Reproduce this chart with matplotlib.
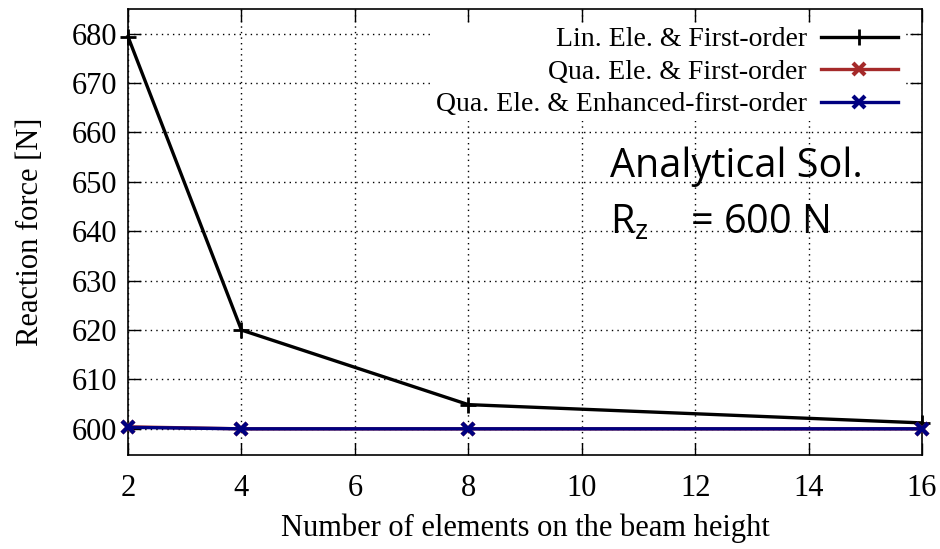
import matplotlib
matplotlib.use('Agg')
import matplotlib.pyplot as plt

plt.rcParams['font.family'] = ['Liberation Serif', 'DejaVu Serif']
plt.rcParams['mathtext.fontset'] = 'custom'
plt.rcParams['mathtext.rm'] = 'Open Sans'
plt.rcParams['mathtext.it'] = 'Open Sans'

elements = [2, 4, 8, 16]
lin_first = [679.4, 620.0, 604.9, 601.2]
qua_first = [600.4, 600.0, 600.0, 600.0]
qua_enhanced = [600.3, 600.0, 600.0, 600.0]

x_ticks = [2, 4, 6, 8, 10, 12, 14, 16]
y_ticks = [600, 610, 620, 630, 640, 650, 660, 670, 680]

fig = plt.figure(figsize=(9.4, 5.49), dpi=100)
ax = fig.add_axes([128/940, 1 - 455/549, (922-128)/940, (455-9)/549])

ax.plot(elements, lin_first, color='black', lw=2.4, marker='+', ms=11, mew=2,
        label='Lin. Ele. & First-order', clip_on=False, zorder=3)
ax.plot(elements, qua_first, color='#a52a2a', lw=2.4, marker='x', ms=8, mew=3,
        label='Qua. Ele. & First-order', clip_on=False, zorder=3)
ax.plot(elements, qua_enhanced, color='#000080', lw=2.4, marker='x', ms=8, mew=3,
        label='Qua. Ele. & Enhanced-first-order', clip_on=False, zorder=4)

ax.set_xlim(2, 16)
ax.set_ylim(594.7, 685)
ax.set_xticks(x_ticks)
ax.set_yticks(y_ticks)
ax.tick_params(direction='in', length=9, width=1, top=True, right=True, labelsize=22)
ax.tick_params(axis='x', pad=14)
ax.tick_params(axis='y', pad=8)
ax.grid(True, linestyle=(0, (1, 3)), color='black', lw=1)
for s in ax.spines.values():
    s.set_linewidth(1.2)

ax.set_xlabel('Number of elements on the beam height', fontsize=22, labelpad=7)
ax.set_ylabel('Reaction force [N]', fontsize=22, labelpad=19)

leg = ax.legend(loc='upper right', bbox_to_anchor=(0.993, 1.0), fontsize=20, frameon=True,
                markerfirst=False, handlelength=2.8, labelspacing=0.25, borderpad=0.15,
                handletextpad=0.5)
leg.get_frame().set_edgecolor('none')
leg.get_frame().set_facecolor('white')
leg.get_frame().set_alpha(1)

ax.text(10.5, 650.9, 'Analytical Sol.', family='Open Sans', fontsize=28.5)
ax.text(10.5, 639.6, r'$\mathregular{R_z}$    = 600 N', family='Open Sans', fontsize=28.5)

fig.savefig('out.png', dpi=100)
